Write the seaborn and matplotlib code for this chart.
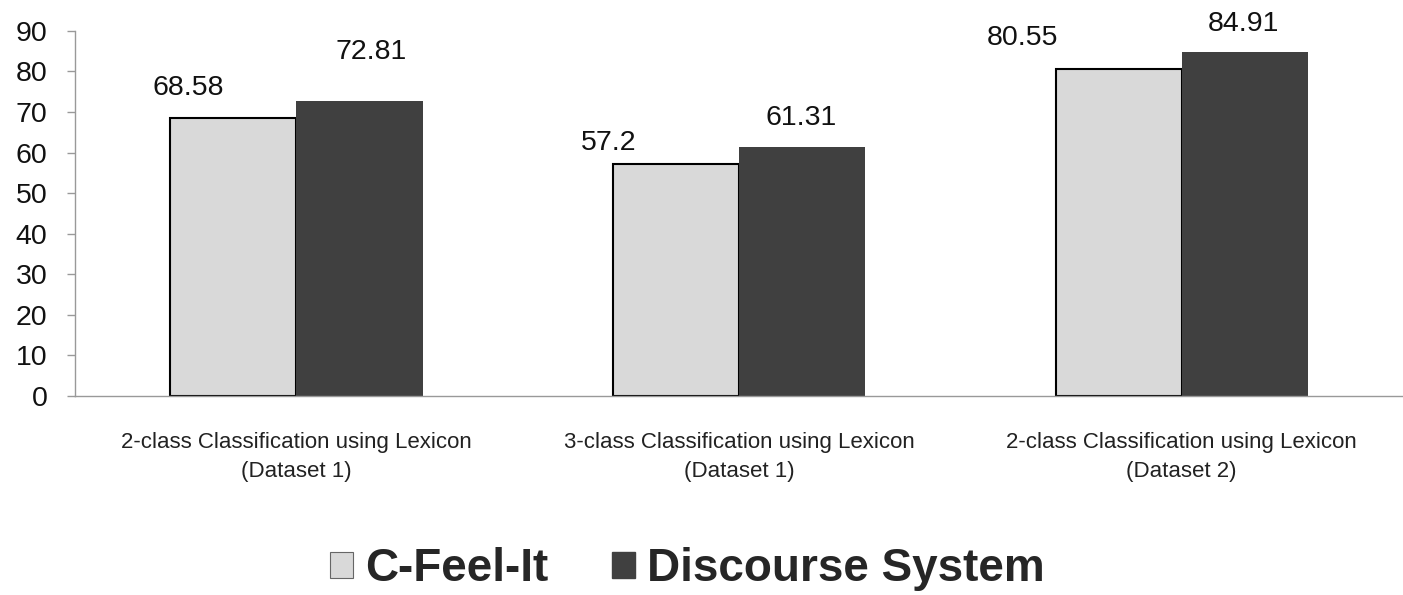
import matplotlib
matplotlib.use("Agg")
import matplotlib.pyplot as plt
import matplotlib.patches as mpatches
import seaborn as sns
import pandas as pd

categories = [
    "2-class Classification using Lexicon\n(Dataset 1)",
    "3-class Classification using Lexicon\n(Dataset 1)",
    "2-class Classification using Lexicon\n(Dataset 2)",
]
systems = ["C-Feel-It", "Discourse System"]
cfeelit = [68.58, 57.2, 80.55]
discourse = [72.81, 61.31, 84.91]
yticks = [0, 10, 20, 30, 40, 50, 60, 70, 80, 90]

sns.set_theme(style="white")
plt.rcParams["font.family"] = ["Liberation Sans", "DejaVu Sans"]

df = pd.DataFrame({
    "category": categories * 2,
    "system": [systems[0]] * 3 + [systems[1]] * 3,
    "value": cfeelit + discourse,
})

colors = ["#d9d9d9", "#404040"]

fig = plt.figure(figsize=(14.03, 5.95), dpi=100)
ax = fig.add_axes([0.0535, 0.3345, 0.9465, 0.6135])

sns.barplot(data=df, x="category", y="value", hue="system", order=categories,
            hue_order=systems, palette=colors, width=0.57, gap=0,
            saturation=1, edgecolor="none", linewidth=0, ax=ax, legend=False)

# black outline on the light bars
for bar in ax.containers[0]:
    bar.set_edgecolor("black")
    bar.set_linewidth(1.5)

# value labels (offsets in pixels from the bar's top centre)
offsets = [
    [(-45, 30), (-67, 21), (-96, 31)],
    [(12, 49), (-1, 29), (-1, 28)],
]
for ci, container in enumerate(ax.containers):
    for bi, bar in enumerate(container):
        val = [cfeelit, discourse][ci][bi]
        ax.annotate(f"{val:g}", (bar.get_x() + bar.get_width() / 2, bar.get_height()),
                    xytext=offsets[ci][bi], textcoords="offset pixels",
                    ha="center", va="center", fontsize=20.5, color="#111111")

ax.set_xlim(-0.5, 2.5)
ax.set_ylim(0, 90)
ax.set_yticks(yticks)
ax.set_yticklabels([str(t) for t in yticks], fontsize=20.5, color="#111111")
ax.set_xlabel("")
ax.set_ylabel("")
ax.set_xticks(range(3))
ax.set_xticklabels(categories, fontsize=16, color="#222222", linespacing=1.5)
ax.set_xticks([-0.5, 0.5, 1.5, 2.5], minor=True)
ax.tick_params(axis="x", which="major", length=0, pad=26)
ax.tick_params(axis="x", which="minor", length=6, color="#999999", width=1, direction="out")
ax.tick_params(axis="y", length=6, color="#999999", width=1, direction="out", pad=14, left=True)

for side in ["top", "right"]:
    ax.spines[side].set_visible(False)
for side in ["left", "bottom"]:
    ax.spines[side].set_color("#999999")
    ax.spines[side].set_linewidth(1)

handles = [mpatches.Patch(facecolor=colors[0], edgecolor="#666666", linewidth=0.8),
           mpatches.Patch(facecolor=colors[1], edgecolor="#404040")]
fig.legend(handles, systems, loc="center", bbox_to_anchor=(0.49, 0.043), ncol=2,
           frameon=False, handlelength=0.5, handleheight=0.5, handletextpad=0.26,
           columnspacing=1.4,
           prop={"family": "Liberation Sans", "weight": "bold", "size": 33})

fig.savefig("out.png", dpi=100)
